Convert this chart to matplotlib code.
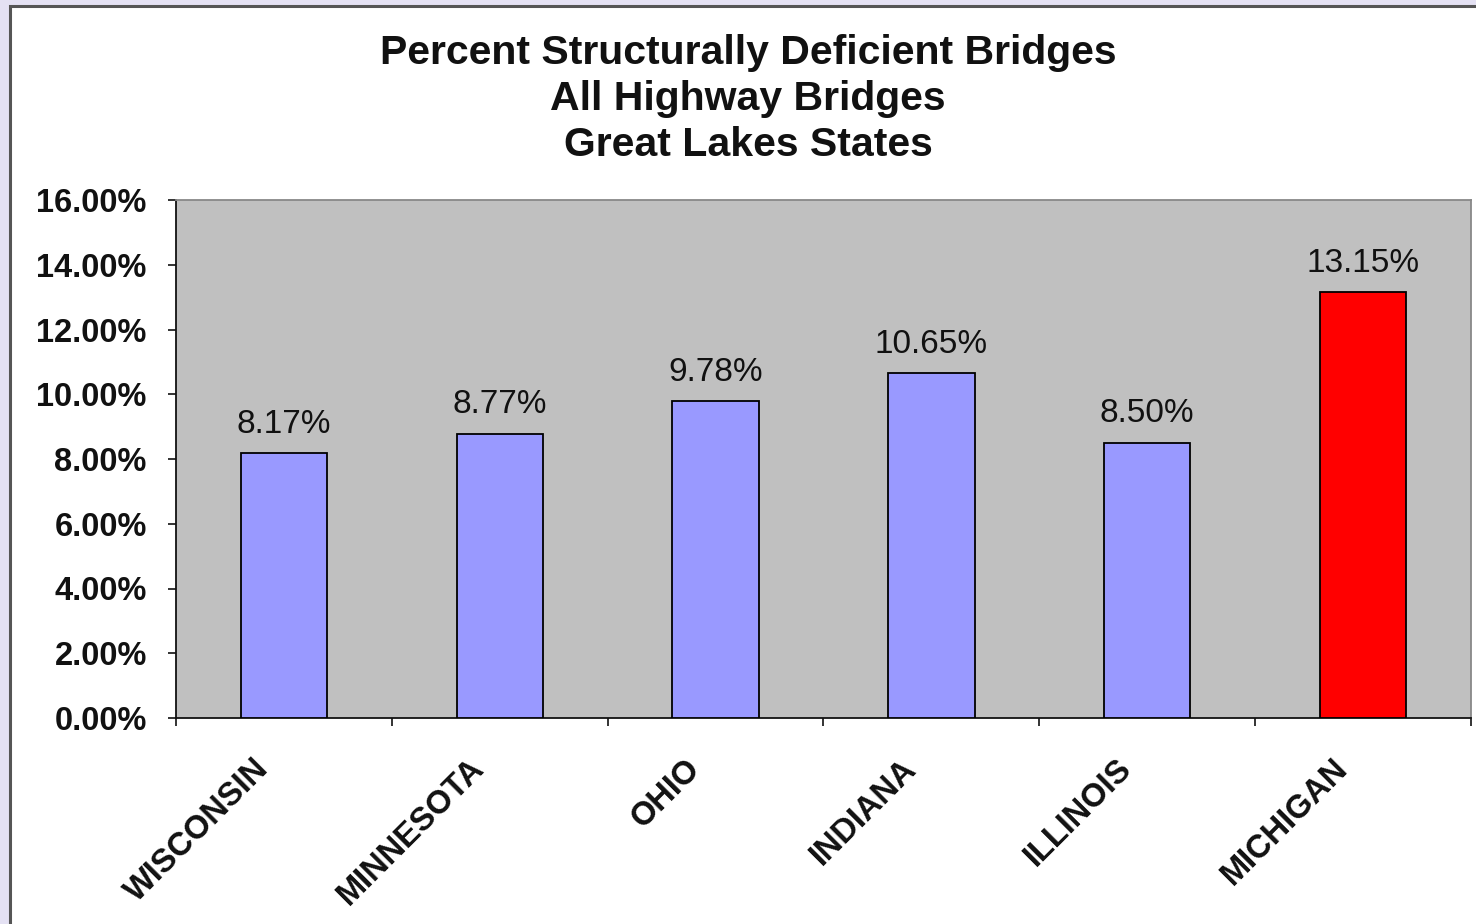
import matplotlib
matplotlib.use("Agg")
import matplotlib.pyplot as plt
from matplotlib.patches import Rectangle
from matplotlib.ticker import FixedLocator, FuncFormatter
from matplotlib.transforms import ScaledTranslation
import numpy as np

states = ["WISCONSIN", "MINNESOTA", "OHIO", "INDIANA", "ILLINOIS", "MICHIGAN"]
values = [8.17, 8.77, 9.78, 10.65, 8.50, 13.15]
bar_colors = ["#9999FF", "#9999FF", "#9999FF", "#9999FF", "#9999FF", "#FF0000"]
title_lines = ["Percent Structurally Deficient Bridges", "All Highway Bridges", "Great Lakes States"]
yticks = [0, 2, 4, 6, 8, 10, 12, 14, 16]

W, H = 1476, 924
fig = plt.figure(figsize=(W / 100, H / 100), dpi=100)
fig.patch.set_facecolor("#E4E1F3")
plt.rcParams["font.family"] = ["Liberation Sans", "DejaVu Sans"]

# white frame
fig.patches.append(Rectangle((10 / W, -0.05), 1.2, 1 - 5.5 / H + 0.05, transform=fig.transFigure,
                             facecolor="white", edgecolor="#555555", linewidth=2.2, zorder=-5))

ax = fig.add_axes([176 / W, 1 - 718 / H, (1471 - 176) / W, (718 - 200) / H])
ax.set_zorder(2)
ax.set_facecolor("#C0C0C0")
x = np.arange(len(states))
ax.bar(x, values, width=0.4, color=bar_colors, edgecolor="black", linewidth=1.3, zorder=3)
ax.set_xlim(-0.5, len(states) - 0.5)
ax.set_ylim(0, 16)

for xi, v in zip(x, values):
    ax.annotate(f"{v:.2f}%", (xi, v), xytext=(0, 21), textcoords="offset points",
                ha="center", va="center", fontsize=24, color="#111111")

ax.yaxis.set_major_locator(FixedLocator(yticks))
ax.yaxis.set_major_formatter(FuncFormatter(lambda v, p: f"{v:.2f}%"))
ax.tick_params(axis="y", direction="out", length=6, width=1.2, pad=15, labelsize=23.5, colors="#111111")
for lab in ax.get_yticklabels():
    lab.set_fontweight("bold")

ax.set_xticks(np.arange(len(states) + 1) - 0.5)
ax.set_xticklabels([])
ax.tick_params(axis="x", which="major", direction="out", length=6, width=1.2, colors="#111111")
ax.set_xticks(x, minor=True)
ax.set_xticklabels(states, minor=True, rotation=45, ha="right", va="center",
                   rotation_mode="anchor", fontsize=23.5, fontweight="bold", color="#111111")
ax.tick_params(axis="x", which="minor", length=0, pad=33)
shift = ScaledTranslation(-20 / 100, 0, fig.dpi_scale_trans)
for lab in ax.get_xticklabels(minor=True):
    lab.set_transform(lab.get_transform() + shift)

for s in ["left", "bottom"]:
    ax.spines[s].set_color("#111111")
    ax.spines[s].set_linewidth(1.3)
for s in ["top", "right"]:
    ax.spines[s].set_color("#888888")
    ax.spines[s].set_linewidth(1.3)

ys = [53, 99, 145]
for t, yy in zip(title_lines, ys):
    fig.text(748 / W, 1 - yy / H, t, ha="center", va="center", fontsize=29.5, fontweight="bold", color="#111111")

fig.savefig("out.png", dpi=100, facecolor=fig.get_facecolor())
